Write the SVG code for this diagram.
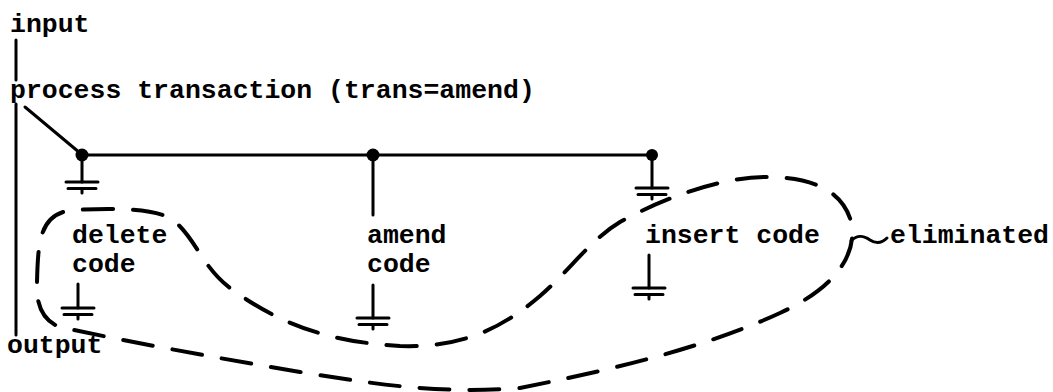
<svg xmlns="http://www.w3.org/2000/svg" width="1053" height="392" viewBox="0 0 1053 392">
<style>
text{font-family:"Liberation Mono","Courier New",monospace;font-size:26.5px;font-weight:bold;fill:#000}
.ln{stroke:#000;stroke-width:3;fill:none;stroke-linecap:round}
.dash{stroke:#000;stroke-width:4;fill:none;stroke-dasharray:30 20;stroke-linecap:round}
</style>
<defs>
<g id="gnd" class="ln">
<path d="M-16,0H16M-14,6.5H14M0,6.5V11"/>
</g>
</defs>
<rect width="1053" height="392" fill="#fff"/>
<g id="connectors">
<path class="ln" d="M16,40V80"/>
<path class="ln" d="M16,104V335"/>
<path class="ln" d="M25,107L80,153"/>
<path class="ln" d="M82,155H652"/>
<circle cx="82" cy="155" r="6.5"/>
<circle cx="373" cy="155" r="6.5"/>
<circle cx="652" cy="155" r="6"/>
<path class="ln" d="M82,155V182"/>
<use href="#gnd" x="82" y="182"/>
<path class="ln" d="M652,155V188"/>
<use href="#gnd" x="652" y="188"/>
<path class="ln" d="M373,155V215"/>
<path class="ln" d="M78,284V308"/>
<use href="#gnd" x="78" y="308"/>
<path class="ln" d="M373,285V318"/>
<use href="#gnd" x="373" y="318"/>
<path class="ln" d="M649,255V288"/>
<use href="#gnd" x="649" y="288"/>
<path class="ln" d="M851,241C858,234 864,236 870,240C876,244 882,243 887,238"/>
</g>
<g id="eliminated-boundary">
<path class="dash" d="M37,282C38,240 40,212 75,210C110,208 150,208 170,218C195,235 200,265 230,288C280,325 330,342 400,346C460,348 500,330 540,296C570,270 590,240 620,222C660,200 720,176 770,177C820,178 845,195 852,225C856,260 830,290 780,313C700,350 600,372 520,388C440,394 380,385 300,372C200,355 120,340 60,327C40,320 36,300 37,282Z"/>
</g>
<g id="input"><text x="10" y="32">input</text></g>
<g id="process"><text x="10" y="98">process transaction (trans=amend)</text></g>
<g id="delete"><text x="72" y="243">delete</text><text x="72" y="272">code</text></g>
<g id="amend"><text x="367" y="243">amend</text><text x="367" y="272">code</text></g>
<g id="insert"><text x="645" y="243">insert code</text></g>
<g id="eliminated"><text x="890" y="243">eliminated</text></g>
<g id="output"><text x="7" y="353">output</text></g>
</svg>
